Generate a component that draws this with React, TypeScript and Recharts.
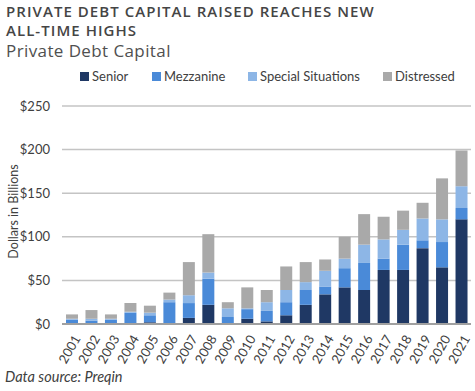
import { BarChart, Bar, XAxis, YAxis, CartesianGrid, Legend } from "recharts";

const years = [
  "2001", "2002", "2003", "2004", "2005", "2006", "2007", "2008", "2009", "2010", "2011",
  "2012", "2013", "2014", "2015", "2016", "2017", "2018", "2019", "2020", "2021",
];
const senior = [0, 0, 0, 0, 2, 0, 7, 22, 0, 6, 3, 10, 22, 34, 42, 39, 62, 62, 87, 65, 120];
const mezzanine = [5, 4, 5, 13, 8, 25, 17, 30, 8, 11, 12, 15, 17, 9, 22, 31, 13, 29, 9, 29, 13];
const special = [1, 2, 1, 1, 3, 3, 9, 7, 10, 1, 10, 14, 9, 18, 11, 21, 22, 17, 25, 26, 25];
const distressed = [5, 10, 5, 10, 8, 8, 38, 44, 7, 24, 14, 27, 23, 13, 25, 35, 26, 22, 18, 47, 41];
const yTicks = [0, 50, 100, 150, 200, 250];

const series = [
  { key: "senior", name: "Senior", color: "#1F3864" },
  { key: "mezzanine", name: "Mezzanine", color: "#4A8AD8" },
  { key: "special", name: "Special Situations", color: "#8DB6E6" },
  { key: "distressed", name: "Distressed", color: "#A9A9A9" },
];

const data = years.map((y, i) => ({
  year: y,
  senior: senior[i],
  mezzanine: mezzanine[i],
  special: special[i],
  distressed: distressed[i],
}));

const FONT = "Lato, 'Open Sans', sans-serif";

// rotated year labels
const YearTick = (props: any) => {
  const { x, y, payload } = props;
  return (
    <text
      x={x + 5}
      y={y + 4}
      transform={`rotate(-60, ${x + 5}, ${y + 4})`}
      textAnchor="end"
      dominantBaseline="central"
      fontSize={13}
      fill="#404040"
      fontFamily={FONT}
    >
      {payload.value}
    </text>
  );
};

const LegendRow = () => {
  const pos = [80, 152, 248, 383];
  return (
    <div style={{ position: "relative", height: 16 }}>
      {series.map((s, i) => (
        <div
          key={s.key}
          style={{
            position: "absolute",
            left: pos[i],
            top: 0,
            display: "flex",
            alignItems: "center",
            fontSize: 13,
            color: "#404040",
            fontFamily: FONT,
            whiteSpace: "nowrap",
          }}
        >
          <span style={{ width: 9, height: 9, background: s.color, marginRight: 3, display: "inline-block" }} />
          {s.name}
        </div>
      ))}
    </div>
  );
};

export default function App() {
  return (
    <div
      style={{
        position: "absolute",
        left: 0,
        top: 0,
        width: 475,
        height: 391,
        background: "#fff",
        fontFamily: FONT,
        overflow: "hidden",
      }}
    >
      <div
        style={{
          position: "absolute",
          left: 6,
          top: 2,
          fontFamily: "'Open Sans', sans-serif",
          fontWeight: 600,
          fontSize: 15,
          letterSpacing: 1.05,
          lineHeight: "19px",
          color: "#454545",
        }}
      >
        PRIVATE DEBT CAPITAL RAISED REACHES NEW
        <br />
        ALL-TIME HIGHS
      </div>
      <div
        style={{
          position: "absolute",
          left: 6,
          top: 39,
          fontFamily: "'Open Sans', sans-serif",
          fontSize: 17,
          letterSpacing: 0.4,
          color: "#505050",
        }}
      >
        Private Debt Capital
      </div>
      <div
        style={{
          position: "absolute",
          left: 0,
          top: 116,
          width: 26,
          height: 190,
          display: "flex",
          alignItems: "center",
          justifyContent: "center",
        }}
      >
        <div
          style={{
            transform: "rotate(-90deg)",
            whiteSpace: "nowrap",
            fontSize: 12.5,
            color: "#404040",
            fontFamily: FONT,
          }}
        >
          Dollars in Billions
        </div>
      </div>
      <BarChart
        width={475}
        height={391}
        data={data}
        margin={{ top: 90, right: 4, left: 0, bottom: 0 }}
        barSize={12}
      >
        <CartesianGrid vertical={false} stroke="#C4C4C4" strokeWidth={1.5} />
        <XAxis
          dataKey="year"
          interval={0}
          height={67}
          tick={<YearTick />}
          tickLine={false}
          axisLine={{ stroke: "#A0A0A0", strokeWidth: 2 }}
        />
        <YAxis
          width={62}
          domain={[0, 250]}
          ticks={yTicks}
          tickFormatter={(v) => `$${v}`}
          tick={{ fontSize: 13, fill: "#404040", fontFamily: FONT }}
          tickMargin={6}
          tickLine={false}
          axisLine={false}
        />
        <Legend
          verticalAlign="top"
          content={() => <LegendRow />}
          wrapperStyle={{ top: 68, left: 0, width: 475 }}
        />
        {series.map((s) => (
          <Bar key={s.key} dataKey={s.key} name={s.name} stackId="a" fill={s.color} isAnimationActive={false} />
        ))}
      </BarChart>
      <div
        style={{
          position: "absolute",
          left: 5,
          top: 368,
          fontStyle: "italic",
          fontSize: 14.5,
          color: "#404040",
          fontFamily: FONT,
        }}
      >
        Data source: Preqin
      </div>
    </div>
  );
}
